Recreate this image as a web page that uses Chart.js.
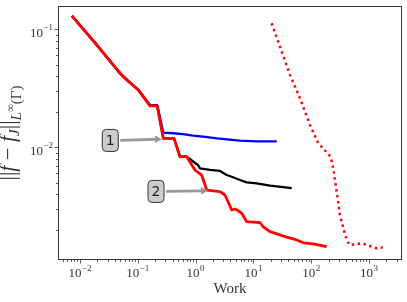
<!DOCTYPE html>
<html>
<head>
<meta charset="utf-8">
<script src="https://cdn.jsdelivr.net/npm/chart.js@4.4.0/dist/chart.umd.min.js"></script>
<style>
  html, body { margin: 0; padding: 0; background: #fff; }
  canvas { display: block; }
</style>
</head>
<body>
<canvas id="workChart" width="407" height="302"></canvas>
<script>
// red solid line
var redWork = [0.00727, 0.0189, 0.0492, 0.0677, 0.102, 0.163, 0.217, 0.276, 0.423, 0.537, 0.701, 0.976, 1.275, 1.556, 2.64, 3.23, 4.22, 4.81, 5.42, 6.28, 7.66, 13.0, 14.8, 19.4, 28.8, 35.2, 56.1, 73.0, 109, 185];
var redErr = [0.1297, 0.0750, 0.0424, 0.0365, 0.0306, 0.0224, 0.0224, 0.0119, 0.0119, 0.00832, 0.00832, 0.00641, 0.00582, 0.00434, 0.00421, 0.00394, 0.00294, 0.00300, 0.00291, 0.00276, 0.00234, 0.00230, 0.00212, 0.00193, 0.00181, 0.00175, 0.00164, 0.00155, 0.00152, 0.00144];

// blue line
var blueWork = [0.00727, 0.0189, 0.0492, 0.0677, 0.102, 0.163, 0.217, 0.276, 0.406, 0.605, 0.902, 1.343, 2.345, 3.49, 5.86, 11.5, 25.3];
var blueErr = [0.1297, 0.0750, 0.0424, 0.0365, 0.0306, 0.0228, 0.0228, 0.0133, 0.01315, 0.0129, 0.01253, 0.0123, 0.0119, 0.01169, 0.01138, 0.0112, 0.0112];

// black line
var blackWork = [0.00727, 0.0189, 0.0492, 0.0677, 0.102, 0.163, 0.217, 0.276, 0.423, 0.537, 0.701, 1.096, 1.19, 1.775, 2.64, 3.45, 4.22, 5.86, 7.66, 11.4, 19.4, 46.0];
var blackErr = [0.1297, 0.0750, 0.0424, 0.0365, 0.0306, 0.0224, 0.0224, 0.0119, 0.0119, 0.00832, 0.00832, 0.00708, 0.00664, 0.00643, 0.0063, 0.00582, 0.00563, 0.00528, 0.00505, 0.00495, 0.00473, 0.0045];

// red dotted line
var dotWork = [20.7, 28.8, 43.0, 64.0, 95.3, 133, 185, 217, 241, 276, 315, 384, 456, 612, 748, 912, 1360, 1726];
var dotErr = [0.1124, 0.0713, 0.0410, 0.0260, 0.01545, 0.0108, 0.00907, 0.00832, 0.00664, 0.00421, 0.00267, 0.00181, 0.00149, 0.00151, 0.00154, 0.00149, 0.00139, 0.00142];

var xTickValues = [0.01, 0.1, 1, 10, 100, 1000];
var xTickExps = ["\u22122", "\u22121", "0", "1", "2", "3"];
var yTickValues = [0.1, 0.01];
var yTickExps = ["\u22121", "\u22122"];

var noteLabels = ["1", "2"];
var noteWork = [0.0334, 0.2065];
var noteErr = [0.01143, 0.00423];
var noteTipWork = [0.262, 1.639];
var noteTipErr = [0.0117, 0.00428];

function pts(xs, ys) {
  return xs.map(function (x, i) { return { x: x, y: ys[i] }; });
}

var serif = '"Liberation Serif", "DejaVu Serif", serif';

function minorTicks(ctx, scale, horizontal, a) {
  var lo = Math.floor(Math.log10(scale.min));
  var hi = Math.ceil(Math.log10(scale.max));
  ctx.beginPath();
  for (var e = lo; e <= hi; e++) {
    for (var k = 1; k < 10; k++) {
      var v = k * Math.pow(10, e);
      if (v < scale.min || v > scale.max) continue;
      var p = Math.round(scale.getPixelForValue(v)) + 0.5;
      var len = k === 1 ? 3.5 : 2;
      if (horizontal) {
        ctx.moveTo(p, a.bottom);
        ctx.lineTo(p, a.bottom + len);
      } else {
        ctx.moveTo(a.left, p);
        ctx.lineTo(a.left - len, p);
      }
    }
  }
  ctx.stroke();
}

function yTitle(ctx, cx, cy, target) {
  var parts = [
    ["||", "", 0, 1], ["f", "italic ", 0, 1], [" \u2212 ", "", 0, 1], ["f", "italic ", 0, 1],
    ["J", "italic ", 3, 0.68], ["||", "", 0, 1], ["L", "italic ", 4, 0.68],
    ["\u221e", "", 0, 0.5], ["(\u0393)", "", 4, 0.68]
  ];
  var base = 16;
  function total(size) {
    var w = 0;
    parts.forEach(function (p) {
      ctx.font = p[1] + (size * p[3]) + "px " + serif;
      w += ctx.measureText(p[0]).width;
    });
    return w;
  }
  var size = base * target / total(base);
  var w = total(size);
  ctx.save();
  ctx.translate(cx, cy);
  ctx.rotate(-Math.PI / 2);
  var x = -w / 2;
  ctx.textBaseline = "alphabetic";
  ctx.textAlign = "left";
  parts.forEach(function (p) {
    ctx.font = p[1] + (size * p[3]) + "px " + serif;
    var dy = p[2] * size / 16;
    if (p[0] === "\u221e") dy = -1 * size / 16;
    ctx.fillText(p[0], x, dy);
    x += ctx.measureText(p[0]).width;
  });
  ctx.restore();
}

var axesPlugin = {
  id: "axesPlugin",
  afterDatasetsDraw: function (chart) {
    var ctx = chart.ctx;
    var xs = chart.scales.x, ys = chart.scales.y;
    ctx.save();
    for (var i = 0; i < noteLabels.length; i++) {
      var bx = xs.getPixelForValue(noteWork[i]);
      var by = ys.getPixelForValue(noteErr[i]);
      var tx = xs.getPixelForValue(noteTipWork[i]);
      var ty = ys.getPixelForValue(noteTipErr[i]);
      // arrow
      var sx = bx + 10;
      ctx.strokeStyle = "#999";
      ctx.fillStyle = "#999";
      ctx.lineWidth = 2.8;
      ctx.beginPath();
      ctx.moveTo(sx, by);
      ctx.lineTo(tx - 6, ty);
      ctx.stroke();
      ctx.beginPath();
      ctx.moveTo(tx, ty);
      ctx.lineTo(tx - 7, ty - 3.8);
      ctx.lineTo(tx - 7, ty + 3.8);
      ctx.closePath();
      ctx.fill();
      // box
      ctx.beginPath();
      ctx.roundRect(bx - 8, by - 11, 16, 22, 4);
      ctx.fillStyle = "#cccccc";
      ctx.fill();
      ctx.strokeStyle = "#333";
      ctx.lineWidth = 1;
      ctx.stroke();
      ctx.fillStyle = "#222";
      ctx.font = '14px "DejaVu Sans", sans-serif';
      ctx.textAlign = "center";
      ctx.textBaseline = "middle";
      ctx.fillText(noteLabels[i], bx, by + 0.5);
    }
    ctx.restore();
  },
  afterDraw: function (chart) {
    var ctx = chart.ctx, a = chart.chartArea;
    var xs = chart.scales.x, ys = chart.scales.y;
    ctx.save();
    ctx.strokeStyle = "#333";
    ctx.lineWidth = 1;
    ctx.strokeRect(a.left + 0.5, a.top + 0.5, a.right - a.left - 1, a.bottom - a.top - 1);
    ctx.lineWidth = 0.8;
    minorTicks(ctx, xs, true, a);
    minorTicks(ctx, ys, false, a);

    ctx.fillStyle = "#333";
    ctx.textBaseline = "alphabetic";
    ctx.textAlign = "left";
    xTickValues.forEach(function (v, i) {
      var p = xs.getPixelForValue(v);
      ctx.font = "13px " + serif;
      var w1 = ctx.measureText("10").width;
      ctx.font = "9px " + serif;
      var w2 = ctx.measureText(xTickExps[i]).width;
      var x0 = p - (w1 + w2 + 0.5) / 2;
      ctx.font = "13px " + serif;
      ctx.fillText("10", x0, a.bottom + 17);
      ctx.font = "9px " + serif;
      ctx.fillText(xTickExps[i], x0 + w1 + 0.5, a.bottom + 11);
    });
    yTickValues.forEach(function (v, i) {
      var p = ys.getPixelForValue(v);
      ctx.font = "9px " + serif;
      var w2 = ctx.measureText(yTickExps[i]).width;
      ctx.font = "13px " + serif;
      var w1 = ctx.measureText("10").width;
      var right = a.left - 5;
      ctx.fillText("10", right - w2 - 0.5 - w1, p + 7.3);
      ctx.font = "9px " + serif;
      ctx.fillText(yTickExps[i], right - w2, p + 0.8);
    });

    ctx.font = "15px " + serif;
    ctx.textAlign = "center";
    ctx.fillText("Work", (a.left + a.right) / 2, 293);

    yTitle(ctx, 15, (a.top + a.bottom) / 2, 95);
    ctx.restore();
  }
};

new Chart(document.getElementById("workChart"), {
  type: "line",
  data: {
    datasets: [
      { data: pts(redWork, redErr), borderColor: "#ff0000", borderWidth: 2.8 },
      { data: pts(dotWork, dotErr), borderColor: "#ff0000", borderWidth: 2.5, borderDash: [2.4, 3.6] },
      { data: pts(blackWork, blackErr), borderColor: "#000000", borderWidth: 2.3 },
      { data: pts(blueWork, blueErr), borderColor: "#0000ff", borderWidth: 2.3 }
    ]
  },
  options: {
    responsive: false,
    animation: false,
    devicePixelRatio: 1,
    parsing: true,
    elements: {
      point: { radius: 0 },
      line: { tension: 0, fill: false, borderJoinStyle: "round", borderCapStyle: "butt" }
    },
    layout: { padding: { top: 6, right: 5, left: 0, bottom: 0 } },
    plugins: { legend: { display: false }, tooltip: { enabled: false } },
    scales: {
      x: {
        type: "logarithmic",
        min: 0.004159,
        max: 3724,
        grid: { display: false },
        border: { display: false },
        ticks: { display: false },
        afterFit: function (s) { s.height = 42; }
      },
      y: {
        type: "logarithmic",
        min: 0.001109,
        max: 0.1574,
        grid: { display: false },
        border: { display: false },
        ticks: { display: false },
        afterFit: function (s) { s.width = 58; }
      }
    }
  },
  plugins: [axesPlugin]
});
</script>
</body>
</html>
